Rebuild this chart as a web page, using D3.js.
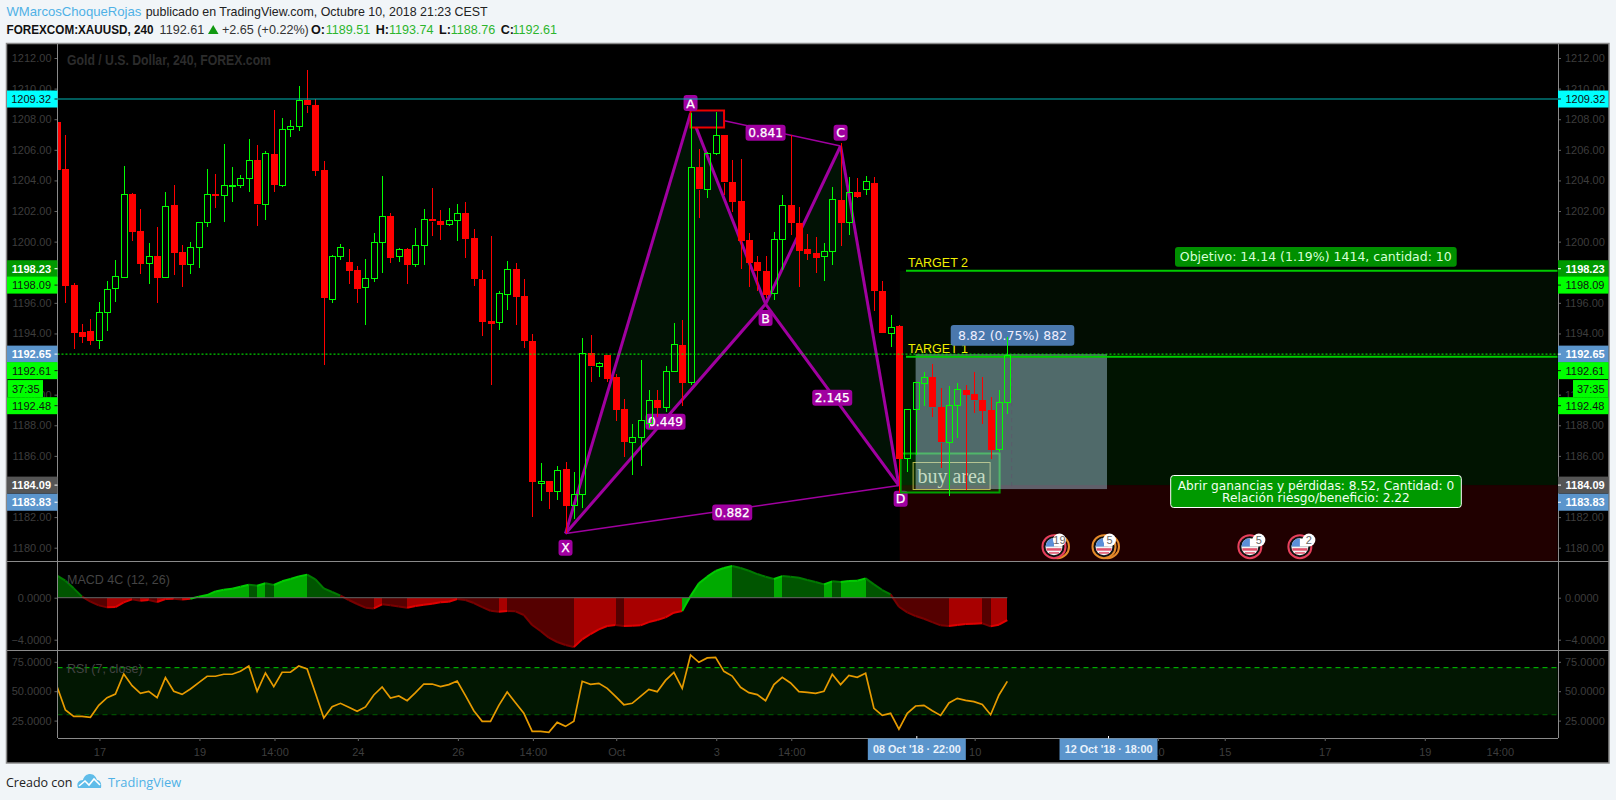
<!DOCTYPE html>
<html><head><meta charset="utf-8">
<script src="https://cdn.jsdelivr.net/npm/d3@7"></script>
<style>
html,body{margin:0;padding:0;background:#f1f5f8;overflow:hidden}
svg{display:block}
text{font-family:"Liberation Sans",Arial,sans-serif}
.hd{font-family:"Open Sans",sans-serif;font-size:12.6px}
.vd{font-family:"DejaVu Sans",sans-serif}
.sf{font-family:"Liberation Serif",serif}
</style></head><body><svg id="c" width="1616" height="800"></svg>
<script>
// bars run from index -1 (clipped by the left axis) to 113
const firstBar = -1;
const opens = [1207.82,1204.74,1197.16,1194.09,1194.16,1193.55,1195.38,1196.95,1197.66,1203.11,1200.69,1198.58,1199.06,1197.66,1202.39,1199.32,1198.51,1199.63,1201.26,1203.11,1203.02,1203.66,1203.68,1204.13,1205.31,1202.44,1205.73,1203.68,1207.34,1207.51,1209.23,1208.91,1204.68,1196.23,1199.04,1198.67,1198.14,1197.00,1197.60,1199.95,1201.67,1199.04,1199.52,1198.51,1199.76,1201.45,1201.35,1201.11,1201.41,1201.87,1200.23,1197.55,1194.81,1194.72,1196.55,1198.21,1196.44,1193.50,1184.20,1184.35,1183.66,1185.14,1182.74,1183.48,1192.70,1191.85,1192.57,1191.15,1189.06,1186.88,1187.19,1188.12,1189.65,1189.15,1191.50,1193.24,1190.78,1204.85,1203.39,1205.75,1206.95,1203.89,1202.63,1200.08,1198.67,1198.08,1196.62,1200.13,1202.37,1201.19,1199.52,1199.25,1199.01,1199.36,1202.72,1201.24,1203.24,1203.39,1203.81,1196.77,1194.05,1194.48,1185.83,1189.04,1190.74,1191.13,1189.17,1186.88,1189.30,1190.30,1190.02,1189.65,1188.99,1186.42,1189.51];
const highs = [1207.82,1206.97,1197.27,1194.61,1194.92,1196.03,1197.43,1198.80,1204.94,1203.20,1202.13,1199.89,1200.98,1203.24,1203.70,1199.78,1199.97,1201.26,1204.74,1204.42,1206.38,1204.88,1204.35,1206.71,1206.31,1205.92,1208.60,1208.08,1207.95,1210.17,1211.21,1209.34,1205.27,1199.10,1199.84,1199.52,1198.40,1198.86,1200.56,1204.29,1201.85,1199.56,1199.56,1200.89,1202.13,1203.50,1202.07,1202.17,1202.46,1202.59,1200.82,1198.14,1200.37,1196.77,1198.73,1198.60,1197.55,1193.96,1185.53,1184.35,1185.33,1185.57,1184.92,1193.68,1193.90,1192.11,1192.57,1191.32,1189.71,1188.08,1192.26,1190.30,1190.30,1191.87,1194.66,1194.88,1208.38,1206.03,1205.88,1208.45,1206.95,1205.33,1205.40,1200.54,1199.06,1199.06,1200.63,1203.05,1206.97,1202.28,1200.50,1200.32,1199.89,1203.57,1206.42,1204.20,1204.18,1204.29,1204.22,1197.43,1195.20,1194.55,1189.04,1190.80,1191.50,1192.00,1190.41,1190.56,1190.74,1190.63,1191.50,1191.13,1189.82,1190.30,1193.74];
const lows = [1204.68,1195.96,1192.98,1193.39,1193.24,1193.00,1194.18,1196.07,1197.66,1200.06,1197.90,1197.25,1196.01,1197.66,1197.82,1197.05,1197.90,1198.30,1200.98,1202.22,1201.30,1202.61,1203.52,1203.26,1201.02,1201.41,1203.26,1203.59,1206.86,1207.25,1208.43,1204.31,1191.93,1195.99,1198.80,1197.25,1195.99,1194.57,1197.38,1197.97,1198.62,1198.69,1197.23,1198.36,1198.47,1200.37,1200.10,1201.02,1200.06,1198.95,1197.10,1193.85,1190.63,1194.24,1195.53,1194.55,1193.07,1182.02,1183.07,1182.52,1183.11,1180.93,1181.87,1182.61,1190.85,1191.17,1190.85,1188.27,1185.94,1184.75,1185.35,1187.79,1188.56,1188.88,1191.50,1189.28,1190.63,1201.56,1202.87,1205.66,1203.05,1201.96,1198.23,1197.05,1196.79,1196.29,1196.18,1198.14,1200.43,1197.05,1198.80,1197.97,1197.42,1198.47,1199.73,1200.43,1202.87,1203.05,1195.49,1194.05,1193.13,1183.55,1184.96,1186.05,1189.28,1188.56,1185.23,1183.39,1187.19,1183.76,1188.82,1188.08,1185.79,1186.27,1188.76];
const closes = [1204.68,1197.12,1194.05,1193.79,1193.53,1195.38,1196.88,1197.75,1203.09,1200.65,1198.56,1199.06,1197.64,1202.30,1199.28,1198.49,1199.63,1201.26,1203.09,1203.00,1203.68,1203.68,1204.13,1205.31,1202.41,1205.77,1203.70,1207.34,1207.53,1209.23,1208.88,1204.61,1196.34,1199.04,1199.63,1198.08,1196.90,1197.60,1199.95,1201.65,1198.95,1199.49,1198.47,1199.76,1201.45,1201.30,1201.08,1201.39,1201.85,1200.19,1197.58,1194.77,1194.64,1196.62,1198.19,1196.40,1193.53,1184.31,1184.33,1183.66,1185.05,1182.74,1183.48,1192.70,1191.83,1192.04,1191.02,1189.01,1186.92,1187.21,1188.32,1189.63,1189.15,1191.52,1193.29,1190.76,1204.85,1203.39,1205.77,1206.95,1203.85,1202.61,1200.04,1198.60,1198.10,1196.51,1200.15,1202.37,1201.22,1199.38,1199.21,1198.95,1199.36,1202.76,1201.22,1203.22,1202.91,1203.94,1196.77,1194.05,1194.44,1185.77,1189.04,1190.80,1191.13,1189.15,1186.86,1189.30,1190.34,1190.00,1189.60,1188.95,1186.40,1189.49,1192.61];
const macdValues = [2.10,1.62,0.89,0.10,-0.38,-0.73,-0.92,-0.89,-0.44,-0.16,-0.29,-0.22,-0.41,-0.13,-0.10,-0.16,-0.10,0.10,0.25,0.60,0.76,0.86,1.05,1.24,1.14,1.37,1.21,1.56,1.78,2.03,2.19,1.75,0.89,0.54,0.19,-0.22,-0.60,-0.95,-1.02,-0.63,-0.73,-0.83,-0.95,-0.79,-0.67,-0.57,-0.44,-0.38,-0.13,-0.22,-0.51,-0.89,-1.24,-1.33,-1.27,-1.30,-1.65,-2.60,-3.17,-3.81,-4.22,-4.51,-4.70,-3.97,-3.46,-3.02,-2.70,-2.60,-2.70,-2.67,-2.63,-2.32,-2.13,-1.87,-1.43,-1.27,0.16,1.37,2.00,2.54,2.83,3.02,2.83,2.57,2.25,2.00,1.78,2.06,2.00,1.90,1.68,1.49,1.27,1.56,1.49,1.59,1.62,1.84,1.27,0.73,0.32,-0.86,-1.40,-1.75,-2.00,-2.32,-2.63,-2.70,-2.60,-2.51,-2.48,-2.44,-2.73,-2.57,-2.13];
const rsiValues = [53.9,34.0,28.6,28.6,27.8,38.0,44.5,47.6,64.6,54.7,48.2,49.9,44.5,61.5,49.9,47.3,51.9,57.3,62.7,62.7,64.4,64.4,66.9,71.4,49.9,65.5,53.9,66.1,66.1,71.4,68.9,48.2,27.2,36.8,39.7,36.3,32.9,36.6,46.8,53.6,44.2,45.9,41.9,48.8,56.1,56.1,53.9,55.6,58.7,46.2,33.4,24.4,24.4,38.0,49.3,40.2,31.2,15.8,15.8,15.0,23.5,20.1,24.4,58.4,55.8,56.7,52.4,45.6,38.5,39.7,45.6,51.6,49.6,59.2,66.0,52.4,80.8,74.6,78.3,78.8,66.9,62.9,53.3,48.8,47.1,41.9,55.6,61.8,57.0,49.6,49.0,48.2,49.9,64.4,55.6,63.5,61.8,65.2,35.4,29.4,31.2,17.8,31.2,37.4,38.0,33.4,29.4,40.0,43.9,42.2,41.1,38.8,30.0,46.8,58.4];

const priceTicks = [1180,1182,1186,1188,1190,1194,1196,1200,1202,1204,1206,1208,1210,1212];
const macdTicks = [0, -4];
const rsiTicks = [75, 50, 25];
const timeTickBars = [4,16,25,35,47,56,66,78,87,109,131,139,151,163,172];
const timeTickLabels = ["17","19","14:00","24","26","14:00","Oct","3","14:00","10","10","15","17","19","14:00"];
const crossBars = [102, 125];
const crossLabels = ["08 Oct '18 · 22:00", "12 Oct '18 · 18:00"];

const patternNames = ["X","A","B","C","D"];
const patternBars = [60,75,84,93,100];
const patternPrices = [1180.93,1208.38,1195.92,1206.25,1184.06];
const ratioLabels = [["0.841","A","C"],["0.449","X","B"],["2.145","B","D"],["0.882","X","D"]];

const entryPrice = 1184.09, target1 = 1192.48, target2 = 1198.09;
const rangeTop = 1192.65, rangeBottom = 1183.83;
const eventBars = [118.6,124.6,142.1,148.1];
const eventCounts = ["19","5","5","2"];
const eventRing = ["#e8405c","#e58a2a","#e8405c","#e8405c"];
const eventRing2 = ["#e58a2a","#e58a2a",null,null];

// price labels: [text, price the row belongs to, background, colour, bold]
const priceLabels = [
 ["1209.32",1209.32,"#00ffff","#111",false],
 ["1198.23",1198.23,"#009900","#fff",true],
 ["1198.09",1197.16,"#00ff00","#111",false],
 ["1192.65",1192.65,"#5b95cc","#fff",true],
 ["1192.61",1191.57,"#00ff00","#111",false],
 ["1192.48",1189.28,"#00ff00","#111",false],
 ["1184.09",1184.09,"#555555","#fff",true],
 ["1183.83",1182.97,"#5b95cc","#fff",true]
];

const L=57.5,R=1558,FR=1609,FL=6.5,TOP=43.5,P1=561,P2=650,P3=738,BOT=763;
const svg=d3.select("#c");
const defs=svg.append("defs");
defs.append("clipPath").attr("id","plot").append("rect").attr("x",L+.5).attr("y",TOP).attr("width",R-L-1).attr("height",P1-TOP);
defs.append("clipPath").attr("id","sub").append("rect").attr("x",L+.5).attr("y",P1).attr("width",R-L-1).attr("height",P3-P1);

const x=d3.scaleLinear().domain([0,113]).range([65.4,1007.3]);
const y=d3.scaleLinear().domain([1180,1212]).range([547.7,58]);
const yM=d3.scaleLinear().domain([-4,0]).range([639.7,597.7]);
const yR=d3.scaleLinear().domain([25,75]).range([720.6,661.8]);

// header
const hd=svg.append("g").attr("class","hd");
function t(g,xp,yp,s,c,extra){const e=g.append("text").attr("x",xp).attr("y",yp).attr("fill",c).text(s);if(extra)for(const k in extra)e.attr(k,extra[k]);return e;}
t(hd,6.4,15.5,"WMarcosChoqueRojas","#4fb1e6",{"font-weight":400,"style":"font-size:13.5px","textLength":135,"lengthAdjust":"spacingAndGlyphs"});
t(hd,145.7,15.5,"publicado en TradingView.com, Octubre 10, 2018 21:23 CEST","#222",{"style":"font-size:13.5px","textLength":342,"lengthAdjust":"spacingAndGlyphs"});
t(hd,6.5,33.5,"FOREXCOM:XAUUSD, 240","#111",{"font-weight":600,"textLength":147,"lengthAdjust":"spacingAndGlyphs"});
t(hd,159.6,33.5,closes[closes.length-1].toFixed(2),"#333");
hd.append("path").attr("d","M208,34L218.5,34L213.2,25Z").attr("fill","#119911");
t(hd,222,33.5,"+2.65 (+0.22%)","#333");
[["O:",311,325.7,opens],["H:",375.7,389,highs],["L:",439,450.7,lows],["C:",500.7,512.5,closes]].forEach(d=>{
  t(hd,d[1],33.5,d[0],"#111",{"font-weight":600});
  t(hd,d[2],33.5,d[3][d[3].length-1].toFixed(2),"#2db52d");
});

// frame
svg.append("rect").attr("x",FL).attr("y",TOP).attr("width",FR-FL).attr("height",BOT-TOP).attr("fill","#000").attr("stroke","#8a8a8a").attr("stroke-width",1.5);

// RSI band
const band=svg.append("g").attr("clip-path","url(#sub)");
band.append("rect").attr("x",L).attr("width",R-L).attr("y",yR(70)).attr("height",yR(30)-yR(70)).attr("fill","#021702");
band.append("line").attr("x1",L).attr("x2",R).attr("y1",yR(70)).attr("y2",yR(70)).attr("stroke","#00cc00").attr("stroke-dasharray","5 4");
band.append("line").attr("x1",L).attr("x2",R).attr("y1",yR(30)).attr("y2",yR(30)).attr("stroke","#005f00").attr("stroke-dasharray","5 4");

// main pane drawings
const main=svg.append("g").attr("clip-path","url(#plot)");
const zoneL=x(100.1);
main.append("rect").attr("x",zoneL).attr("width",R-zoneL).attr("y",y(target2)).attr("height",y(target1)-y(target2)).attr("fill","#020d02");
main.append("rect").attr("x",zoneL).attr("width",R-zoneL).attr("y",y(target1)).attr("height",y(entryPrice)-y(target1)).attr("fill","#011401");
main.append("rect").attr("x",zoneL).attr("width",R-zoneL).attr("y",y(entryPrice)).attr("height",P1-y(entryPrice)).attr("fill","#200000");

// harmonic pattern
const pt={};patternNames.forEach((n,i)=>pt[n]=[x(patternBars[i]),y(patternPrices[i])]);
const poly=a=>a.map(n=>pt[n].join(",")).join(" ");
main.selectAll(".tri").data([["X","A","B"],["B","C","D"]]).join("polygon").attr("points",poly).attr("fill","#021205");
[["X","A"],["A","B"],["B","X"],["B","C"],["C","D"],["B","D"]].forEach(s=>main.append("line").attr("x1",pt[s[0]][0]).attr("y1",pt[s[0]][1]).attr("x2",pt[s[1]][0]).attr("y2",pt[s[1]][1]).attr("stroke","#a000a0").attr("stroke-width",3));
[["A","C"],["X","D"]].forEach(s=>main.append("line").attr("x1",pt[s[0]][0]).attr("y1",pt[s[0]][1]).attr("x2",pt[s[1]][0]).attr("y2",pt[s[1]][1]).attr("stroke","#a000a0").attr("stroke-width",1.5));

// small red box at A
main.append("rect").attr("x",x(75)).attr("y",110.5).attr("width",33.5).attr("height",17).attr("fill","#03031e").attr("stroke","#ee0000").attr("stroke-width",2);

function pill(g,cx,cy,w,h,s,fill,fs){
  g.append("rect").attr("x",cx-w/2).attr("y",cy-h/2).attr("width",w).attr("height",h).attr("rx",3).attr("fill",fill);
  g.append("text").attr("class","vd").attr("x",cx).attr("y",cy+fs*0.36).attr("text-anchor","middle").attr("fill","#fff").attr("stroke","#fff").attr("stroke-width",0.25).attr("font-size",fs).text(s);
}
ratioLabels.forEach(r=>{
  const a=pt[r[1]],b=pt[r[2]];
  pill(main,(a[0]+b[0])/2,(a[1]+b[1])/2+3,40,16,r[0],"#a000a0",12.2);
});
[["A",0,-10.3],["B",0,14],["C",0,-13.3],["X",0,14.4],["D",1.7,13.3]].forEach(d=>{
  pill(main,pt[d[0]][0]+d[1],pt[d[0]][1]+d[2],14,16,d[0],"#a000a0",12.5);
});

// buy area box
main.append("rect").attr("x",x(100.2)).attr("y",453.5).attr("width",99).attr("height",39).attr("fill","rgba(0,210,0,0.12)").attr("stroke","#00a000").attr("stroke-width",2);
main.append("rect").attr("x",x(101.7)).attr("y",462.5).attr("width",77).attr("height",27).attr("fill","rgba(60,60,0,0.2)").attr("stroke","#b8b84a");
main.append("text").attr("class","sf").attr("x",x(101.7)+38.5).attr("y",483).attr("text-anchor","middle").attr("font-size",20).attr("fill","#d6e0a6").text("buy area");

// price range box
main.append("rect").attr("x",x(102)).attr("width",191.4).attr("y",y(rangeTop)).attr("height",y(rangeBottom)-y(rangeTop)).attr("fill","rgba(178,211,235,0.45)");
main.append("line").attr("x1",x(113)+4.4).attr("x2",x(113)+4.4).attr("y1",y(rangeTop)).attr("y2",y(rangeBottom)).attr("stroke","#5a5a6a").attr("stroke-dasharray","4 4");

// position lines and labels
[target2,target1].forEach(p=>main.append("line").attr("x1",906).attr("x2",R).attr("y1",y(p)).attr("y2",y(p)).attr("stroke","#00cc00").attr("stroke-width",2));
main.append("text").attr("x",908).attr("y",267).attr("font-size",12.5).attr("fill","#f0f000").text("TARGET 2");
main.append("text").attr("x",908).attr("y",353).attr("font-size",12.5).attr("fill","#f0f000").text("TARGET 1");

main.append("rect").attr("x",950.7).attr("y",325).attr("width",123.6).attr("height",20.7).attr("rx",3).attr("fill","#4a78ad");
main.append("text").attr("class","vd").attr("x",1012.5).attr("y",340).attr("text-anchor","middle").attr("font-size",12.5).attr("fill","#eef").text("8.82 (0.75%) 882");

main.append("rect").attr("x",1175).attr("y",247).attr("width",281.7).attr("height",19.7).attr("rx",3).attr("fill","#008f00");
main.append("text").attr("class","vd").attr("x",1315.8).attr("y",261).attr("text-anchor","middle").attr("font-size",12.5).attr("fill","#d6ffd6").text("Objetivo: 14.14 (1.19%) 1414, cantidad: 10");

main.append("rect").attr("x",1170.7).attr("y",475.5).attr("width",290.6).attr("height",32).attr("rx",3).attr("fill","#009900").attr("stroke","#fff");
main.append("text").attr("class","vd").attr("x",1316).attr("y",490).attr("text-anchor","middle").attr("font-size",12.2).attr("fill","#f0fff0").text("Abrir ganancias y pérdidas: 8.52, Cantidad: 0");
main.append("text").attr("class","vd").attr("x",1316).attr("y",502).attr("text-anchor","middle").attr("font-size",12.2).attr("fill","#f0fff0").text("Relación riesgo/beneficio: 2.22");

// events
eventBars.forEach((b,i)=>{
  const g=main.append("g").attr("transform",`translate(${x(b)},546.7)`);
  if(eventRing2[i]) g.append("circle").attr("cx",3.5).attr("r",11.5).attr("fill","none").attr("stroke",eventRing2[i]).attr("stroke-width",2);
  g.append("circle").attr("r",11.5).attr("fill","#111").attr("stroke",eventRing[i]).attr("stroke-width",2);
  g.append("path").attr("d","M-8.5,0A8.5,8.5 0 0 1 8.5,0Z").attr("fill","#fff");
  g.append("path").attr("d","M-8.5,0A8.5,8.5 0 0 1 0,-8.5L0,0Z").attr("fill","#5b8fd8");
  g.append("path").attr("d","M-8.5,0L8.5,0A8.5,8.5 0 0 1 -8.5,0Z").attr("fill","#f3f3f3");
  g.append("rect").attr("x",-7.5).attr("y",1.5).attr("width",15).attr("height",2.5).attr("fill","#e0506a");
  g.append("rect").attr("x",-5).attr("y",5.5).attr("width",10).attr("height",1.5).attr("fill","#e0506a");
  g.append("circle").attr("cx",i<2?5.5:9).attr("cy",-6.7).attr("r",6.5).attr("fill","#fff");
  g.append("text").attr("x",i<2?5.5:9).attr("y",-2.7).attr("text-anchor","middle").attr("font-size",11).attr("fill","#666").text(eventCounts[i]);
});

// candles
const bars=opens.map((o,i)=>({b:i+firstBar,o,h:highs[i],l:lows[i],c:closes[i]}));
const cg=svg.append("g").attr("clip-path","url(#plot)").attr("shape-rendering","crispEdges");
const px=d=>Math.round(x(d.b));
const col=d=>d.c>=d.o?"#00ff00":"#ff0000";
cg.selectAll(".w1").data(bars).join("line").attr("x1",d=>px(d)+.5).attr("x2",d=>px(d)+.5)
  .attr("y1",d=>y(d.h)).attr("y2",d=>y(Math.max(d.o,d.c))).attr("stroke",col);
cg.selectAll(".w2").data(bars).join("line").attr("x1",d=>px(d)+.5).attr("x2",d=>px(d)+.5)
  .attr("y1",d=>y(Math.min(d.o,d.c))).attr("y2",d=>y(d.l)).attr("stroke",col);
cg.selectAll(".b").data(bars.filter(d=>d.c>=d.o)).join("rect").attr("x",d=>px(d)-2.5).attr("width",6)
  .attr("y",d=>Math.round(y(d.c))+.5).attr("height",d=>Math.max(1,Math.round(y(d.o)-y(d.c))))
  .attr("fill","none").attr("stroke",col);
cg.selectAll(".r").data(bars.filter(d=>d.c<d.o)).join("rect").attr("x",d=>px(d)-3).attr("width",7)
  .attr("y",d=>Math.round(y(d.o))).attr("height",d=>Math.max(2,Math.round(y(d.c)-y(d.o))))
  .attr("fill",col);

// price lines
svg.append("line").attr("x1",L).attr("x2",R).attr("y1",y(1209.32)).attr("y2",y(1209.32)).attr("stroke","#00b4b4").attr("stroke-width",1);
svg.append("line").attr("x1",L).attr("x2",R).attr("y1",y(rangeTop)).attr("y2",y(rangeTop)).attr("stroke","#00ff00").attr("stroke-width",1).attr("stroke-dasharray","2 2");

// MACD
const sub=svg.append("g").attr("clip-path","url(#sub)");
const mb=macdValues.map((v,i)=>({b:i+firstBar,v}));
const segs=d3.pairs(mb);
const mCol=(a,b)=>{const up=b.v>=a.v;return b.v>=0?(up?["#00aa00","#00cc00"]:["#005500","#007a00"]):(up?["#a80000","#e00000"]:["#550000","#7a0000"]);};
const ar=d3.area().x(d=>x(d.b)).y0(yM(0)).y1(d=>yM(d.v));
const ln=d3.line().x(d=>x(d.b)).y(d=>yM(d.v));
sub.selectAll(".ma").data(segs).join("path").attr("d",d=>ar(d)).attr("fill",d=>mCol(d[0],d[1])[0]).attr("shape-rendering","crispEdges");
sub.selectAll(".ml").data(segs).join("path").attr("d",d=>ln(d)).attr("fill","none").attr("stroke",d=>mCol(d[0],d[1])[1]).attr("stroke-width",2);
sub.append("line").attr("x1",L).attr("x2",x(113)).attr("y1",yM(0)).attr("y2",yM(0)).attr("stroke","#666");

// RSI
const rl=d3.line().x((d,i)=>x(i+firstBar)).y(d=>yR(d));
sub.append("path").attr("d",rl(rsiValues)).attr("fill","none").attr("stroke","#e69a00").attr("stroke-width",1.7);

// legends
svg.append("text").attr("x",67).attr("y",65).attr("font-size",14).attr("font-weight",700).attr("fill","#2c2c2c").attr("textLength",204).attr("lengthAdjust","spacingAndGlyphs").text("Gold / U.S. Dollar, 240, FOREX.com");
svg.append("text").attr("x",67).attr("y",584).attr("font-size",12.5).attr("fill","#444").text("MACD 4C (12, 26)");
svg.append("text").attr("x",67).attr("y",673).attr("font-size",12.5).attr("fill","#444").text("RSI (7, close)");

// axes
const axisCol="#8a8a8a",textCol="#3d3d3d";
function sideAxis(scale,ticks,fmt){
  const l=d3.axisLeft(scale).tickValues(ticks).tickFormat(fmt).tickSize(3).tickPadding(3);
  const r=d3.axisRight(scale).tickValues(ticks).tickFormat(fmt).tickSize(3).tickPadding(4);
  [[l,L],[r,R]].forEach(p=>{
    const g=svg.append("g").attr("transform",`translate(${p[1]},0)`).call(p[0]);
    g.select(".domain").remove();
    g.selectAll("line").attr("stroke","#666");
    g.selectAll("text").attr("fill",textCol).attr("font-size",11);
  });
}
sideAxis(y,priceTicks,d3.format(".2f"));
sideAxis(yM,macdTicks,d3.format(".4f"));
sideAxis(yR,rsiTicks,d3.format(".4f"));

const v=svg.append("g").attr("stroke",axisCol).attr("stroke-width",1).attr("shape-rendering","crispEdges");
v.append("line").attr("x1",L).attr("x2",L).attr("y1",TOP).attr("y2",P3);
v.append("line").attr("x1",R).attr("x2",R).attr("y1",TOP).attr("y2",P3);
v.append("line").attr("x1",FL).attr("x2",FR).attr("y1",P1+.5).attr("y2",P1+.5);
v.append("line").attr("x1",FL).attr("x2",FR).attr("y1",P2+.5).attr("y2",P2+.5);
v.append("line").attr("x1",L).attr("x2",R).attr("y1",P3+.5).attr("y2",P3+.5);

// time axis
const tickOff=1.2;
timeTickBars.forEach((b,i)=>{
  svg.append("line").attr("x1",x(b)+tickOff).attr("x2",x(b)+tickOff).attr("y1",P3).attr("y2",P3+3).attr("stroke","#666");
  svg.append("text").attr("x",x(b)+tickOff).attr("y",756).attr("text-anchor","middle").attr("font-size",11).attr("fill",textCol).text(timeTickLabels[i]);
});
crossBars.forEach((b,i)=>{
  const cx=x(b)+tickOff, w=98;
  svg.append("rect").attr("x",cx-w/2).attr("y",P3+.5).attr("width",w).attr("height",21.5).attr("fill","#5b95cc");
  svg.append("line").attr("x1",cx).attr("x2",cx).attr("y1",P3-2).attr("y2",P3+.5).attr("stroke","#fff");
  svg.append("text").attr("x",cx).attr("y",753).attr("text-anchor","middle").attr("font-size",10.8).attr("font-weight",700).attr("fill","#eaf2fb").text(crossLabels[i]);
});

// price labels on both axes
priceLabels.forEach(d=>{
  const yc=y(d[1]);
  [[L-50.5,"end",L-3,L],[R,"start",R,R+3]].forEach(s=>{
    svg.append("rect").attr("x",s[0]).attr("y",yc-8.5).attr("width",50.5).attr("height",17).attr("fill",d[2]);
    svg.append("line").attr("x1",s[2]).attr("x2",s[3]).attr("y1",yc).attr("y2",yc).attr("stroke",d[3]);
    const isL=s[1]==="end";
    svg.append("text").attr("x",isL?L-6.5:R+7.5).attr("y",yc+4).attr("text-anchor",s[1]).attr("font-size",11).attr("font-weight",d[4]?700:400).attr("fill",d[3]).text(d[0]);
  });
});
// countdown
const cd=y(1190.4);
[[7.5,35.5,12],[1573,35,1577]].forEach(s=>{
  svg.append("rect").attr("x",s[0]).attr("y",cd-8.5).attr("width",s[1]).attr("height",17).attr("fill","#00ff00");
  svg.append("text").attr("x",s[2]).attr("y",cd+4).attr("font-size",11).attr("fill","#111").text("37:35");
});

// footer
const ft=svg.append("g");
ft.append("text").attr("class","hd").attr("x",6).attr("y",787).attr("fill","#222").attr("style","font-size:12.5px").text("Creado con");
ft.append("path").attr("d","M78,788c-2,-5 1,-8 5,-8c1,-4 4,-6 7,-6c4,0 6,3 7,6c3,0 5,3 4,8Z").attr("fill","#5fbce9");
ft.append("path").attr("d","M79,786L85,781L89,785L94,779L100,785").attr("fill","none").attr("stroke","#fff").attr("stroke-width",1.6);
ft.append("text").attr("class","hd").attr("x",108).attr("y",787).attr("fill","#4fb1e6").attr("style","font-size:12.8px").text("TradingView");
</script></body></html>
